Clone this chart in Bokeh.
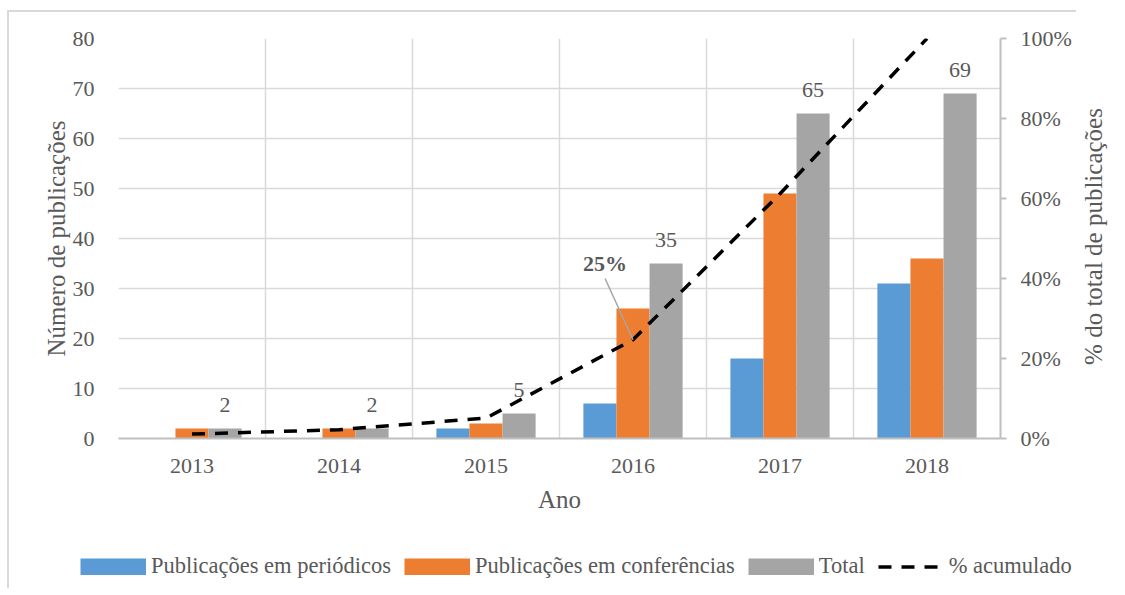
import math
import numpy as np
from bokeh.plotting import figure
from bokeh.layouts import row
from bokeh.models import (Range1d, LinearAxis, FixedTicker, PrintfTickFormatter,
                          Legend, LegendItem, Label)
from bokeh.core.properties import value
from bokeh.embed import file_html
from bokeh.resources import INLINE

# ---- data ----
anos = ["2013", "2014", "2015", "2016", "2017", "2018"]
periodicos = [0, 0, 2, 7, 16, 31]
conferencias = [2, 2, 3, 26, 49, 36]
total = [2, 2, 5, 35, 65, 69]
acumulado_pct = [1.1, 2.2, 5.1, 24.7, 61.2, 100.0]
left_ticks = [0, 10, 20, 30, 40, 50, 60, 70, 80]
right_ticks = [0, 20, 40, 60, 80, 100]
series_names = ["Publicações em periódicos", "Publicações em conferências",
                "Total", "% acumulado"]
right_title = "% do total de publicações"

FONT = "Liberation Serif"
TXT = "#595959"
GRID = "#d9d9d9"
AXIS = "#bfbfbf"
BLUE, ORANGE, GRAY = "#5B9BD5", "#ED7D31", "#A5A5A5"
DASH = "13 10"
BORDER = "2px solid #d9d9d9"

MBL, MBR, MBT = 109, 78, 26
FW, FH = 882, 400
W1 = MBL + FW + MBR
WR = 34
H1, H2 = 518, 60
MBB = H1 - MBT - FH

p = figure(width=W1, height=H1, output_backend="svg", toolbar_location=None,
           x_range=Range1d(0, len(anos)), y_range=Range1d(0, 80),
           min_border_left=MBL, min_border_right=MBR, min_border_top=MBT,
           min_border_bottom=MBB)
p.outline_line_color = None
p.background_fill_color = "white"
p.border_fill_color = "white"
p.styles = {"border-top": BORDER, "border-left": BORDER,
            "margin-top": "10px", "margin-left": "7px"}

xs = np.arange(len(anos)) + 0.5
bw = 0.225

# grids
p.xgrid.ticker = FixedTicker(ticks=list(range(0, len(anos) + 1)))
p.ygrid.ticker = FixedTicker(ticks=left_ticks)
for g in (p.xgrid, p.ygrid):
    g.grid_line_color = GRID
    g.grid_line_width = 1.5

# left axis
ya = p.yaxis[0]
ya.ticker = FixedTicker(ticks=left_ticks)
ya.axis_line_color = None
ya.major_tick_line_color = None
ya.minor_tick_line_color = None
ya.major_label_standoff = 18
ya.axis_label = "Número de publicações"
ya.axis_label_standoff = 0

# bottom axis
xa = p.xaxis[0]
xa.ticker = FixedTicker(ticks=list(xs))
xa.major_label_overrides = {float(x): a for x, a in zip(xs, anos)}
xa.axis_line_color = AXIS
xa.axis_line_width = 2
xa.major_tick_line_color = None
xa.minor_tick_line_color = None
xa.major_label_standoff = 14
xa.axis_label = "Ano"
xa.axis_label_standoff = 10

# right axis
p.extra_y_ranges = {"pct": Range1d(0, 100)}
ra = LinearAxis(y_range_name="pct", ticker=FixedTicker(ticks=right_ticks),
                formatter=PrintfTickFormatter(format="%d%%"))
ra.axis_line_color = AXIS
ra.axis_line_width = 2
ra.major_tick_line_color = AXIS
ra.major_tick_line_width = 2
ra.major_tick_in = 0
ra.major_tick_out = 6
ra.minor_tick_line_color = None
ra.major_label_standoff = 14
p.add_layout(ra, "right")

for ax in (xa, ya, ra):
    ax.major_label_text_font = FONT
    ax.major_label_text_font_size = "22px"
    ax.major_label_text_color = TXT
    ax.axis_label_text_font = FONT
    ax.axis_label_text_font_size = "25px"
    ax.axis_label_text_color = TXT
    ax.axis_label_text_font_style = "normal"

# bars
p.vbar(x=xs - bw, top=periodicos, width=bw, bottom=0, fill_color=BLUE, line_color=None)
p.vbar(x=xs, top=conferencias, width=bw, bottom=0, fill_color=ORANGE, line_color=None)
p.vbar(x=xs + bw, top=total, width=bw, bottom=0, fill_color=GRAY, line_color=None)

# total labels
p.text(x=xs + bw, y=total, text=[str(t) for t in total], text_align="center",
       text_baseline="bottom", y_offset=-17, text_font=value(FONT),
       text_font_size="22px", text_color=TXT)

# cumulative line
p.line(x=xs, y=acumulado_pct, y_range_name="pct", line_color="black",
       line_width=3.5, line_dash=DASH)

# annotation for 2016
i = 3
lx = xs[i] - 0.19
ly = 40
p.segment(x0=[lx], y0=[ly], x1=[xs[i]], y1=[acumulado_pct[i]], y_range_name="pct",
          line_color="#a6a6a6", line_width=1.5)
p.add_layout(Label(x=lx, y=ly, y_range_name="pct", text=f"{round(acumulado_pct[i])}%",
                   text_align="center", text_baseline="bottom", y_offset=3,
                   text_font=FONT, text_font_size="22px", text_font_style="bold",
                   text_color=TXT))

# ---- right axis title strip (reads bottom-to-top) ----
r = figure(width=WR, height=H1, output_backend="svg", toolbar_location=None,
           x_range=Range1d(0, 1), y_range=Range1d(0, 1),
           x_axis_type=None, y_axis_type=None,
           min_border_left=0, min_border_right=0, min_border_top=MBT,
           min_border_bottom=MBB)
r.outline_line_color = None
r.grid.visible = False
r.border_fill_color = "white"
r.background_fill_color = "white"
r.styles = {"margin-top": "10px"}
r.add_layout(Label(x=0.5, y=0.5, text=right_title, angle=math.pi / 2,
                   text_align="center", text_baseline="middle",
                   text_font=FONT, text_font_size="25px", text_color=TXT))

# ---- legend strip (separate root, full width frame) ----
q = figure(width=W1 + WR, height=H2, output_backend="svg", toolbar_location=None,
           x_range=Range1d(100, 101), y_range=Range1d(100, 101),
           x_axis_type=None, y_axis_type=None,
           min_border_left=0, min_border_right=0, min_border_top=0, min_border_bottom=0)
q.outline_line_color = None
q.grid.visible = False
q.border_fill_color = "white"
q.background_fill_color = "white"
q.styles = {"border-left": BORDER, "margin-left": "7px"}
# same series, out of this strip's view: only their legend swatches show
e1 = q.line(x=xs, y=periodicos, line_color=BLUE, line_width=17)
e2 = q.line(x=xs, y=conferencias, line_color=ORANGE, line_width=17)
e3 = q.line(x=xs, y=total, line_color=GRAY, line_width=17)
e4 = q.line(x=xs, y=acumulado_pct, line_color="black", line_width=3.5, line_dash=DASH)

legend = Legend(items=[LegendItem(label=n, renderers=[rr])
                       for n, rr in zip(series_names, [e1, e2, e3, e4])],
                orientation="horizontal", location=(71, 9))
legend.label_text_font = FONT
legend.label_text_font_size = "22.5px"
legend.label_text_color = TXT
legend.glyph_width = 66
legend.glyph_height = 17
legend.label_standoff = 5
legend.spacing = 13
legend.padding = 0
legend.margin = 0
legend.border_line_color = None
legend.background_fill_alpha = 0
q.add_layout(legend, "center")

open("out.html", "w").write(file_html([row(p, r, spacing=0), q], INLINE))
